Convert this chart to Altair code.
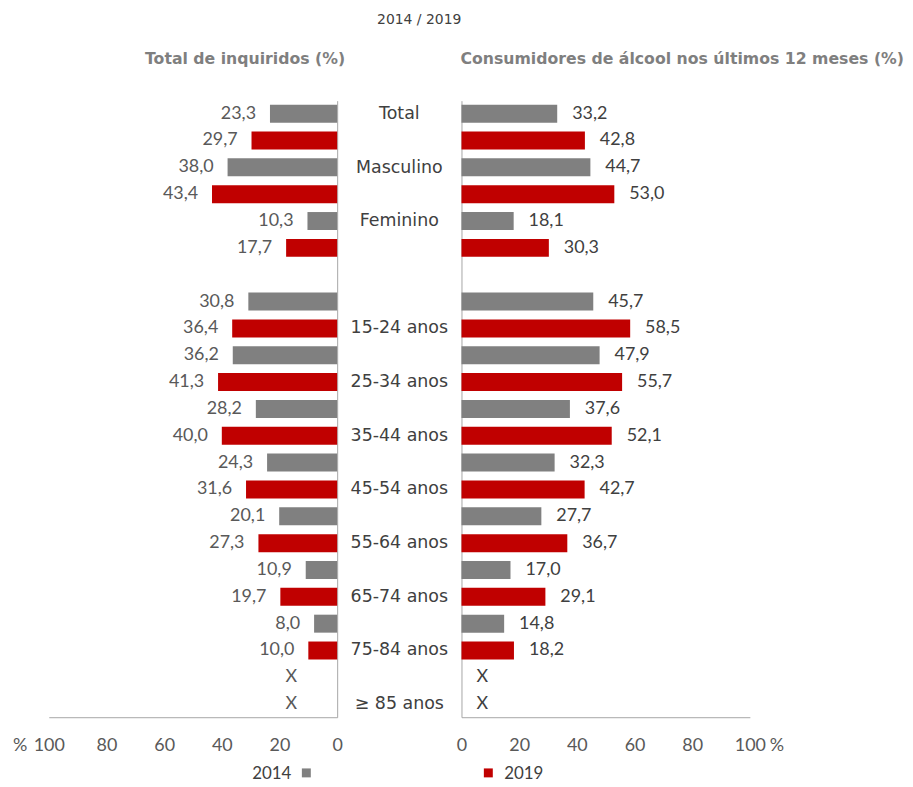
import altair as alt
import pandas as pd

# ---------------- data ----------------
categories = ["Total", "Masculino", "Feminino", "15-24 anos", "25-34 anos",
              "35-44 anos", "45-54 anos", "55-64 anos", "65-74 anos",
              "75-84 anos", "≥ 85 anos"]
# year on whose row the category name is written
label_year = ["2014", "2014", "2014", "2019", "2019", "2019", "2019",
              "2019", "2019", "2019", "2019"]
years = ["2014", "2019"]

total_2014 = [23.3, 38.0, 10.3, 30.8, 36.2, 28.2, 24.3, 20.1, 10.9, 8.0, None]
total_2019 = [29.7, 43.4, 17.7, 36.4, 41.3, 40.0, 31.6, 27.3, 19.7, 10.0, None]
cons_2014 = [33.2, 44.7, 18.1, 45.7, 47.9, 37.6, 32.3, 27.7, 17.0, 14.8, None]
cons_2019 = [42.8, 53.0, 30.3, 58.5, 55.7, 52.1, 42.7, 36.7, 29.1, 18.2, None]

tick_values = [0, 20, 40, 60, 80, 100]
colors = ["#808080", "#C00000"]

title_top = "2014 / 2019"
title_left = "Total de inquiridos (%)"
title_right = "Consumidores de álcool nos últimos 12 meses (%)"

# ---------------- build tables ----------------
rows = []
for i, c in enumerate(categories):
    if i == 3:
        rows.append("gap")
    rows += [f"{c}|2014", f"{c}|2019"]


def panel_df(v14, v19):
    recs = []
    for c, a, b in zip(categories, v14, v19):
        for y, v in (("2014", a), ("2019", b)):
            recs.append({
                "row": f"{c}|{y}",
                "year": y,
                "value": v,
                "label": "X" if v is None else f"{v:.1f}".replace(".", ","),
            })
    return pd.DataFrame(recs)


left_df = panel_df(total_2014, total_2019)
right_df = panel_df(cons_2014, cons_2019)
cat_df = pd.DataFrame({"cat": categories,
                       "row": [f"{c}|{y}" for c, y in zip(categories, label_year)]})

FONT = "DejaVu Sans"
NUMFONT = "Lato"
W, H, MID = 290, 620, 125
AXIS_GRAY = "#A6A6A6"

yscale = alt.Scale(domain=rows, paddingInner=0.33, paddingOuter=0.15)
color = alt.Color("year:N", scale=alt.Scale(domain=years, range=colors), legend=None)


def xaxis():
    return alt.Axis(values=tick_values, ticks=False, grid=False, title=None,
                    domainColor=AXIS_GRAY, labelPadding=19, labelFontSize=18,
                    labelColor="#595959", labelFont=NUMFONT, format="d",
                    labelFlush=False, labelOverlap=False)


def yaxis(orient):
    return alt.Axis(orient=orient, labels=False, ticks=False, grid=False,
                    title=None, domainColor=AXIS_GRAY)


def one(text):
    return pd.DataFrame({"t": [text]})


def panel(df, reverse, label_color):
    X = alt.X("value:Q", scale=alt.Scale(domain=[0, 100], reverse=reverse), axis=xaxis())
    Y = alt.Y("row:N", scale=yscale, axis=yaxis("right" if reverse else "left"))
    base = alt.Chart(df)
    bars = base.mark_bar().encode(x=X, y=Y, color=color)
    txt = base.transform_filter("isValid(datum.value)").mark_text(
        align="right" if reverse else "left", dx=-14 if reverse else 15,
        fontSize=18, font=NUMFONT, color=label_color
    ).encode(x=X, y=Y, text="label:N")
    xs = base.transform_filter("!isValid(datum.value)").transform_calculate(
        value="0"
    ).mark_text(
        align="center", dx=-46 if reverse else 21,
        fontSize=18, font=NUMFONT, color=label_color
    ).encode(x=X, y=Y, text="label:N")
    return [bars, txt, xs]


# left panel extras
left_layers = panel(left_df, True, "#595959")
left_layers += [
    alt.Chart(one(title_left)).mark_text(align="right", fontSize=15.8, fontWeight="bold",
                                         font=FONT, color="#7F7F7F")
    .encode(x=alt.value(W + 8), y=alt.value(-42), text="t:N"),
    alt.Chart(one("%")).mark_text(align="left", fontSize=18, font=NUMFONT, color="#595959")
    .encode(x=alt.value(-36), y=alt.value(H + 29), text="t:N"),
    alt.Chart(one("2014")).mark_text(align="right", fontSize=17, font=NUMFONT, color="#404040")
    .encode(x=alt.value(244), y=alt.value(H + 57), text="t:N"),
    alt.Chart(one("2014")).mark_square(size=81, opacity=1, color=colors[0])
    .encode(x=alt.value(259), y=alt.value(H + 56)),
]
left = alt.layer(*left_layers).properties(width=W, height=H)

right_layers = panel(right_df, False, "#404040")
right_layers += [
    alt.Chart(one(title_right)).mark_text(align="left", fontSize=15.8, fontWeight="bold",
                                          font=FONT, color="#7F7F7F")
    .encode(x=alt.value(-1), y=alt.value(-42), text="t:N"),
    alt.Chart(one("%")).mark_text(align="left", fontSize=18, font=NUMFONT, color="#595959")
    .encode(x=alt.value(W + 20), y=alt.value(H + 29), text="t:N"),
    alt.Chart(one("2019")).mark_square(size=81, opacity=1, color=colors[1])
    .encode(x=alt.value(27), y=alt.value(H + 56)),
    alt.Chart(one("2019")).mark_text(align="left", fontSize=17, font=NUMFONT, color="#404040")
    .encode(x=alt.value(43), y=alt.value(H + 57), text="t:N"),
]
right = alt.layer(*right_layers).properties(width=W, height=H)

mid = alt.layer(
    alt.Chart(cat_df).mark_text(fontSize=17.5, font=FONT, color="#404040").encode(
        y=alt.Y("row:N", scale=yscale, axis=None), x=alt.value(MID / 2), text="cat:N"),
    alt.Chart(one(title_top)).mark_text(fontSize=14, font=FONT, color="#404040")
    .encode(x=alt.value(MID / 2 + 20), y=alt.value(-81), text="t:N"),
).properties(width=MID, height=H)

chart = alt.hconcat(left, mid, right, spacing=0, bounds="flush").configure_view(
    stroke=None
).properties(padding={"left": 5, "top": 3, "right": 0, "bottom": 0})

chart.save("out.html", embed_options={"renderer": "svg", "actions": False})
